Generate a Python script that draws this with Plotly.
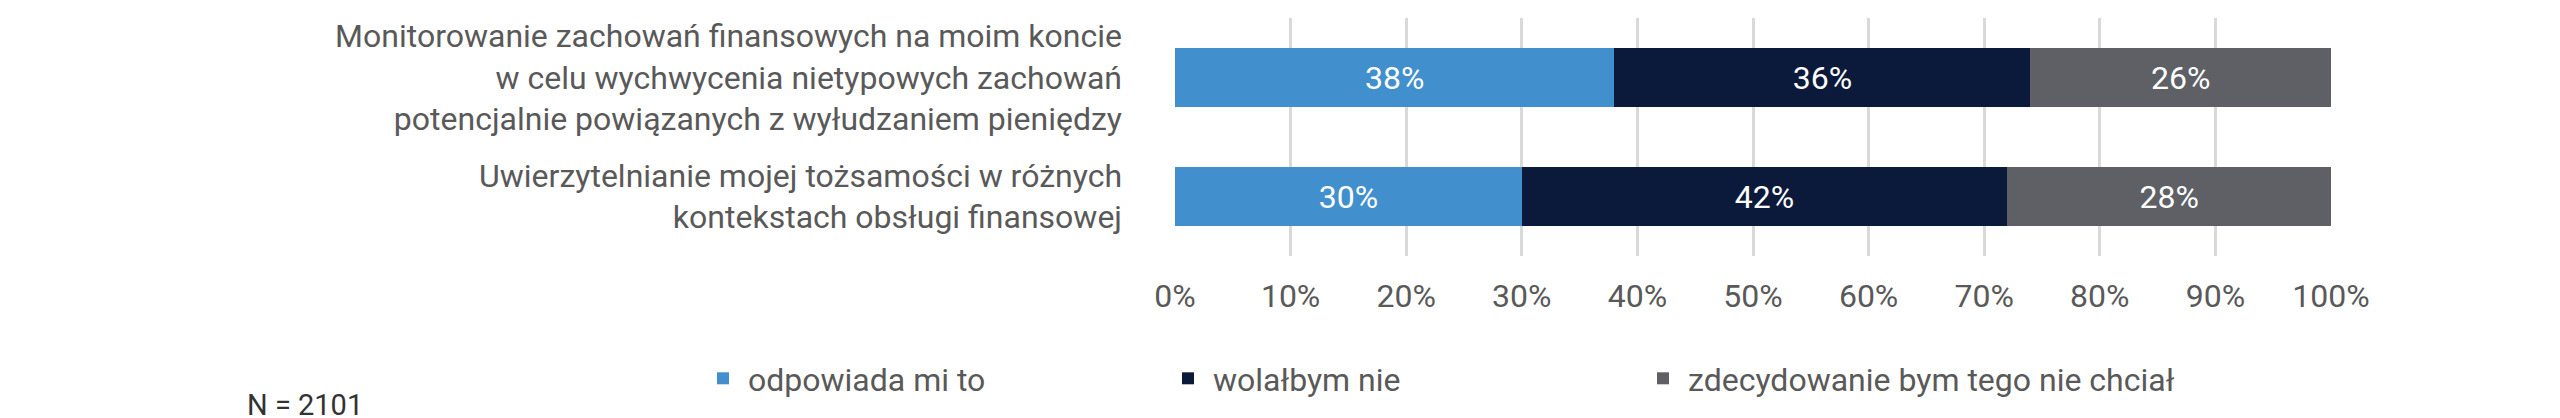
import plotly.graph_objects as go

kategorie = [
    "Monitorowanie zachowań finansowych na moim koncie<br>w celu wychwycenia nietypowych zachowań<br>potencjalnie powiązanych z wyłudzaniem pieniędzy",
    "Uwierzytelnianie mojej tożsamości w różnych<br>kontekstach obsługi finansowej",
]
odpowiada = [38, 30]
wolalbym_nie = [36, 42]
zdecydowanie_nie = [26, 28]
serie = [
    ("odpowiada mi to", odpowiada, "#428fce"),
    ("wolałbym nie", wolalbym_nie, "#0b1a3b"),
    ("zdecydowanie bym tego nie chciał", zdecydowanie_nie, "#5e6066"),
]
ticki = [0, 10, 20, 30, 40, 50, 60, 70, 80, 90, 100]
legenda_x = [690, 1155, 1630]  # pozycje legend w pikselach

fig = go.Figure()
for i, (nazwa, wartosci, kolor) in enumerate(serie):
    fig.add_trace(go.Bar(
        y=kategorie, x=wartosci, name=nazwa, orientation="h",
        marker=dict(color=kolor, line=dict(width=0)),
        text=[f"{v}%" for v in wartosci], textposition="inside",
        insidetextanchor="middle",
        textfont=dict(color="white", size=32, family="Roboto"),
        legend="legend" if i == 0 else f"legend{i + 1}",
    ))

legendy = {}
for i, lx in enumerate(legenda_x):
    klucz = "legend" if i == 0 else f"legend{i + 1}"
    legendy[klucz] = dict(orientation="h", xref="container", yref="container",
                          x=lx / 2560, y=1 - 343 / 418, xanchor="left", yanchor="top",
                          font=dict(size=32, color="#595959"), itemwidth=40)

fig.update_layout(
    barmode="stack", bargap=0.5,
    width=2560, height=418,
    margin=dict(l=1167, r=237, t=10, b=170),
    paper_bgcolor="white", plot_bgcolor="white",
    font=dict(family="Roboto", size=32, color="#595959"),
    showlegend=True,
    annotations=[dict(text="N = 2101", xref="paper", yref="paper",
                      x=-(1167 - 237) / 1156, y=-(397 - 248) / 238,
                      xanchor="left", yanchor="middle", showarrow=False,
                      font=dict(size=29, color="#333333"))],
    **legendy,
)
fig.update_xaxes(range=[0, 100], tickvals=ticki, ticktext=[f"{t}%" for t in ticki],
                 showgrid=True, gridcolor="#d9d9d9", gridwidth=3, zeroline=False,
                 tickfont=dict(size=32), ticks="", ticklabelstandoff=18)
fig.update_yaxes(autorange="reversed", showgrid=False, ticks="",
                 ticklabelstandoff=52, tickfont=dict(size=32))

fig.write_html("out.html")
